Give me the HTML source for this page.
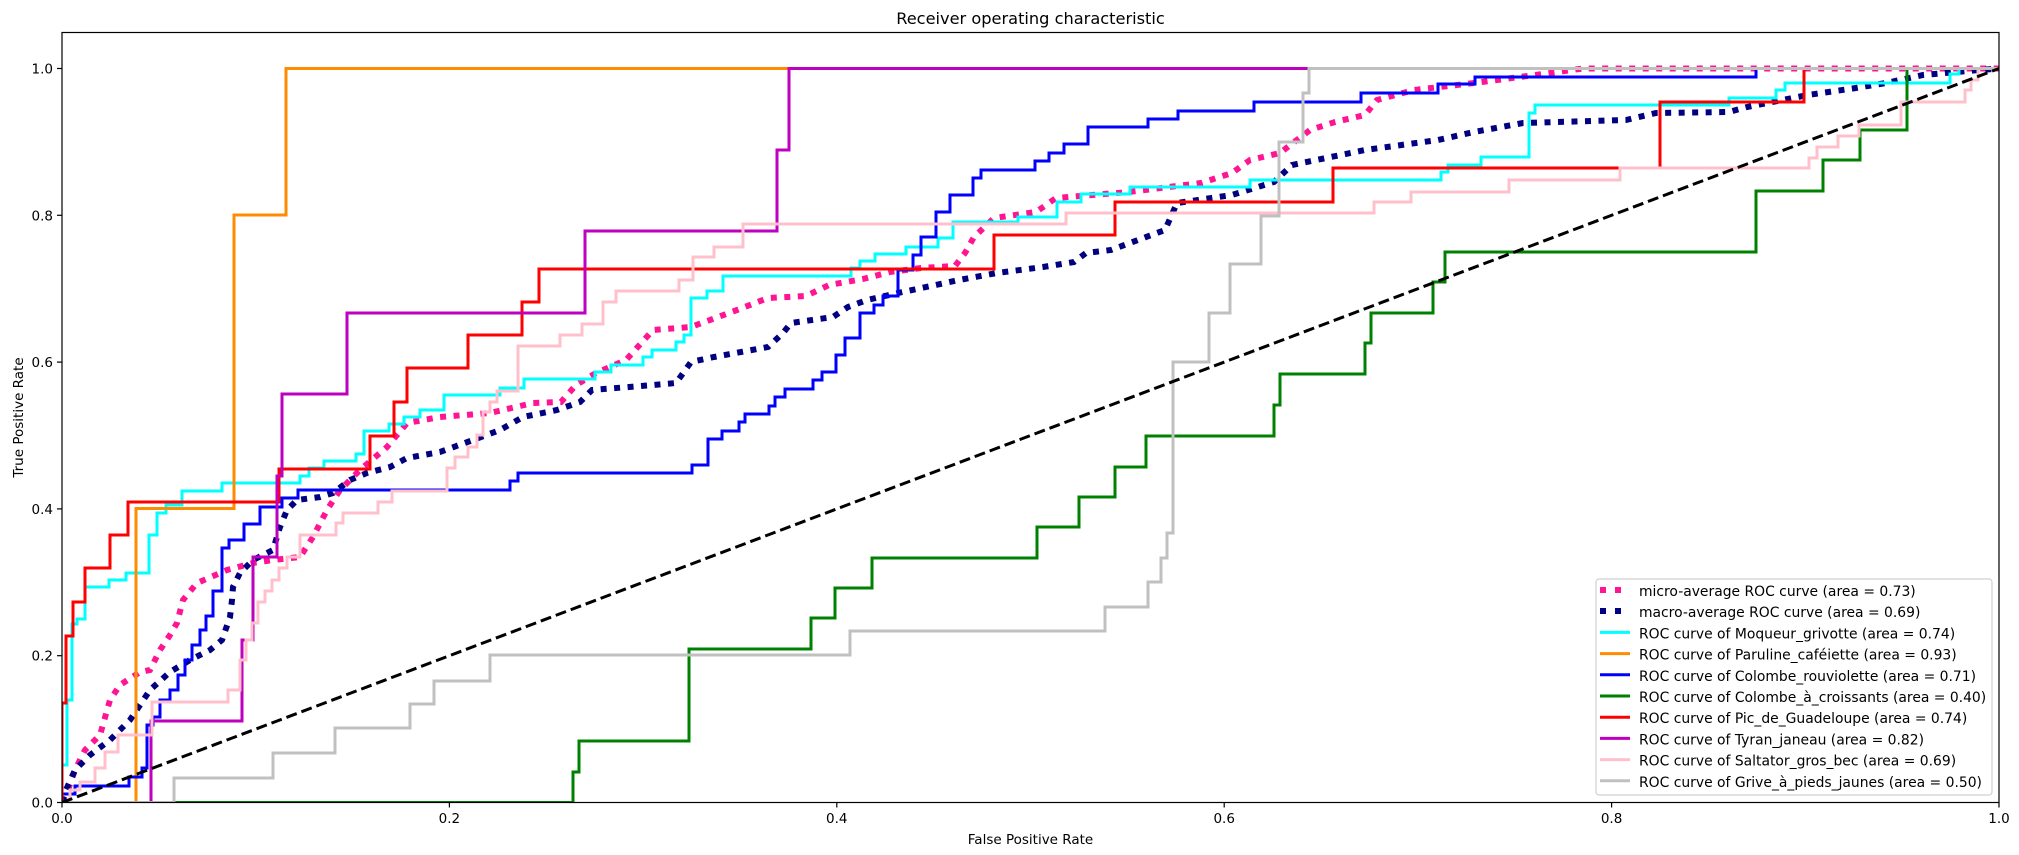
<!DOCTYPE html>
<html><head><meta charset="utf-8"><style>
html,body{margin:0;padding:0;background:#fff;}
svg{display:block;font-family:"DejaVu Sans","Liberation Sans",sans-serif;}
</style></head><body>
<svg width="2019" height="855" viewBox="0 0 2019 855" xmlns="http://www.w3.org/2000/svg">
<rect width="2019" height="855" fill="#fff"/>
<defs><clipPath id="c"><rect x="62" y="32.5" width="1937" height="770"/></clipPath></defs>
<g clip-path="url(#c)" fill="none" stroke-linejoin="miter">
<!-- micro -->
<polyline stroke="#ff1493" stroke-width="6" stroke-dasharray="6,7.5" points="62,802 68,790 75,770 85,750 100,735 110,700 120,685 140,672 150,670 160,650 170,635 177,623 183,600 197,583 227,570 253,563 273,560 300,557 313,537 327,510 340,490 360,470 387,447 407,423 440,417 490,413 533,403 561,402 576,385 596,373 626,360 653,330 691,327 737,310 768,298 806,296 829,285 863,279 890,272 921,268 955,266 965,253 974,237 994,218 1036,212 1056,198 1129,192 1201,183 1232,173 1250,160 1280,153 1310,130 1335,122 1365,115 1377,100 1414,90 1474,83 1535,75 1583,68.5 1999,68.5"/>
<!-- macro -->
<polyline stroke="#000080" stroke-width="6" stroke-dasharray="6,7.5" points="62,802 66,790 75,770 90,755 110,740 130,720 150,690 170,672 190,660 210,650 222,640 230,617 232,600 233,587 240,573 253,560 273,550 280,527 287,510 297,500 320,497 333,493 350,480 367,473 390,467 407,458 440,452 473,440 500,430 523,417 557,410 580,402 592,390 653,385 676,383 691,362 714,357 768,347 783,333 791,323 833,317 848,307 867,300 898,293 959,280 997,273 1043,267 1074,262 1086,253 1111,250 1165,230 1177,203 1232,195 1274,182 1292,165 1365,150 1438,140 1474,132 1523,123 1626,120 1656,113 1729,112 1747,107 1808,95 1856,88 1886,83 1923,75 1971,70.7 1999,68.5"/>
<g stroke-width="3">
<path stroke="#00ffff" d="M62 802.5 V765 H67 V700 H72 V624 H77 V619 H85 V587 H109 V580 H126 V573 H149 V535 H157 V513 H166 V505 H182 V491 H222 V483 H300 V476 H309 V468 H324 V461 H356 V454 H364 V431 H389 V424 H404 V417 H420 V410 H444 V395 H500 V388 H524 V379 H595 V372 H611 V365 H643 V357 H652 V350 H676 V342 H684 V335 H691 V298 H707 V291 H723 V276 H851 V268 H860 V261 H875 V254 H906 V247 H938 V238 H953 V222 H1018 V217 H1057 V202 H1081 V194 H1130 V187 H1250 V180 H1441 V172 H1448 V165 H1481 V157 H1529 V113 H1535 V105 H1729 V98 H1776 V90 H1785 V83 H1950 V74 H1959 V68.5 H1999"/>
<path stroke="#ff8c00" d="M62 802.5 H136 V508.5 H234 V215 H286 V68.5 H1999"/>
<path stroke="#0000ff" d="M62 802.5 V794 H75 V786 H129 V777 H142 V768 H147 V725 H153 V717 H160 V700 H170 V690 H178 V675 H185 V660 H192 V645 H200 V630 H206 V616 H213 V591 H222 V548 H229 V540 H244 V524 H260 V507 H282 V498 H298 V490 H510 V481 H518 V473 H692 V465 H708 V439 H722 V431 H739 V422 H745 V414 H769 V406 H775 V397 H785 V389 H813 V380 H822 V372 H836 V355 H845 V338 H860 V313 H874 V305 H883 V296 H898 V270 H913 V255 H921 V237 H936 V212 H950 V195 H973 V178 H981 V170 H1035 V161 H1049 V153 H1064 V144 H1088 V127 H1148 V119 H1178 V111 H1254 V102 H1361 V93 H1438 V84 H1475 V77 H1756 V68.5 H1999"/>
<path stroke="#008000" d="M62 802.5 H573 V772 H579 V741 H689 V649 H811 V618 H835 V588 H872 V558 H1037 V527 H1079 V497 H1115 V467 H1146 V436 H1274 V405 H1280 V374 H1365 V343 H1371 V313 H1433 V282 H1445 V252 H1756 V191 H1823 V160 H1860 V130 H1907 V68.5 H1999"/>
<path stroke="#ff0000" d="M62 802.5 V703 H66 V636 H73 V602 H85 V568 H110 V535 H128 V502 H279 V469 H370 V436 H394 V402 H407 V368 H468 V335 H522 V302 H539 V269 H994 V235 H1115 V202 H1333 V168 H1660 V102 H1804 V68.5 H1999"/>
<path stroke="#bf00bf" d="M62 802.5 H151 V721 H242 V640 H253 V557 H277 V476 H282 V394 H347 V313 H585 V231 H777 V150 H789 V68.5 H1999"/>
<path stroke="#ffc0cb" d="M62 802.5 H70 V790 H80 V782 H95 V768 H105 V752 H118 V735 H152 V702 H228 V690 H240 V660 H246 V640 H252 V623 H258 V602 H265 V591 H272 V580 H279 V568 H287 V557 H300 V535 H336 V523 H343 V513 H378 V502 H392 V491 H447 V468 H455 V457 H468 V447 H477 V435 H483 V412 H490 V402 H497 V391 H518 V346 H560 V335 H582 V324 H603 V302 H616 V291 H679 V280 H693 V257 H714 V247 H743 V224 H1066 V213 H1374 V202 H1411 V192 H1509 V180 H1620 V168 H1809 V158 H1817 V147 H1838 V136 H1859 V125 H1901 V102 H1965 V90 H1971 V80 H1978 V68.5 H1999"/>
<path stroke="#c0c0c0" d="M62 802.5 H174 V778 H273 V753 H335 V728 H410 V704 H434 V681 H490 V655 H850 V631 H1105 V607 H1148 V582 H1161 V558 H1167 V533 H1173 V362 H1209 V313 H1230 V264 H1261 V216 H1279 V142 H1303 V93 H1309 V68.5 H1999"/>
</g>
<line x1="62" y1="802.5" x2="1999" y2="68.5" stroke="#000" stroke-width="3" stroke-dasharray="11,5"/>
</g>
<rect x="62" y="32.5" width="1937" height="770" fill="none" stroke="#000" stroke-width="1.2"/>
<g stroke="#000" stroke-width="1.2">
<line x1="62" y1="802.5" x2="62" y2="807.5"/><line x1="449.4" y1="802.5" x2="449.4" y2="807.5"/><line x1="836.8" y1="802.5" x2="836.8" y2="807.5"/><line x1="1224.2" y1="802.5" x2="1224.2" y2="807.5"/><line x1="1611.6" y1="802.5" x2="1611.6" y2="807.5"/><line x1="1999" y1="802.5" x2="1999" y2="807.5"/>
<line x1="57" y1="802.5" x2="62" y2="802.5"/><line x1="57" y1="655.7" x2="62" y2="655.7"/><line x1="57" y1="508.9" x2="62" y2="508.9"/><line x1="57" y1="362.1" x2="62" y2="362.1"/><line x1="57" y1="215.3" x2="62" y2="215.3"/><line x1="57" y1="68.5" x2="62" y2="68.5"/>
</g>
<g font-size="13.5" fill="#000" text-anchor="middle">
<text x="62" y="823">0.0</text><text x="449.4" y="823">0.2</text><text x="836.8" y="823">0.4</text><text x="1224.2" y="823">0.6</text><text x="1611.6" y="823">0.8</text><text x="1999" y="823">1.0</text>
</g>
<g font-size="13.5" fill="#000" text-anchor="end">
<text x="53" y="807.5">0.0</text><text x="53" y="660.7">0.2</text><text x="53" y="513.9">0.4</text><text x="53" y="367.1">0.6</text><text x="53" y="220.3">0.8</text><text x="53" y="73.5">1.0</text>
</g>
<text x="1030.5" y="844" font-size="13.5" text-anchor="middle">False Positive Rate</text>
<text transform="translate(23,417.5) rotate(-90)" font-size="13.5" text-anchor="middle">True Positive Rate</text>
<text x="1030.5" y="24" font-size="16.2" text-anchor="middle">Receiver operating characteristic</text>
<rect x="1596" y="579" width="396" height="216" rx="3" fill="#fff" fill-opacity="0.8" stroke="#d0d0d0" stroke-width="1.2"/>
<g stroke-width="3">
<line x1="1600" y1="590" x2="1630" y2="590" stroke="#ff1493" stroke-width="6" stroke-dasharray="6,9"/>
<line x1="1600" y1="611" x2="1630" y2="611" stroke="#000080" stroke-width="6" stroke-dasharray="6,9"/>
<line x1="1600" y1="632.4" x2="1630" y2="632.4" stroke="#00ffff"/>
<line x1="1600" y1="653.6" x2="1630" y2="653.6" stroke="#ff8c00"/>
<line x1="1600" y1="674.8" x2="1630" y2="674.8" stroke="#0000ff"/>
<line x1="1600" y1="696" x2="1630" y2="696" stroke="#008000"/>
<line x1="1600" y1="717.2" x2="1630" y2="717.2" stroke="#ff0000"/>
<line x1="1600" y1="738.4" x2="1630" y2="738.4" stroke="#bf00bf"/>
<line x1="1600" y1="759.6" x2="1630" y2="759.6" stroke="#ffc0cb"/>
<line x1="1600" y1="780.8" x2="1630" y2="780.8" stroke="#c0c0c0"/>
</g>
<g font-size="13.9" fill="#000">
<text x="1639" y="596">micro-average ROC curve (area = 0.73)</text>
<text x="1639" y="617.2">macro-average ROC curve (area = 0.69)</text>
<text x="1639" y="638.4">ROC curve of Moqueur_grivotte (area = 0.74)</text>
<text x="1639" y="659.6">ROC curve of Paruline_caféiette (area = 0.93)</text>
<text x="1639" y="680.8">ROC curve of Colombe_rouviolette (area = 0.71)</text>
<text x="1639" y="702">ROC curve of Colombe_à_croissants (area = 0.40)</text>
<text x="1639" y="723.2">ROC curve of Pic_de_Guadeloupe (area = 0.74)</text>
<text x="1639" y="744.4">ROC curve of Tyran_janeau (area = 0.82)</text>
<text x="1639" y="765.6">ROC curve of Saltator_gros_bec (area = 0.69)</text>
<text x="1639" y="786.8">ROC curve of Grive_à_pieds_jaunes (area = 0.50)</text>
</g>
</svg>
</body></html>
